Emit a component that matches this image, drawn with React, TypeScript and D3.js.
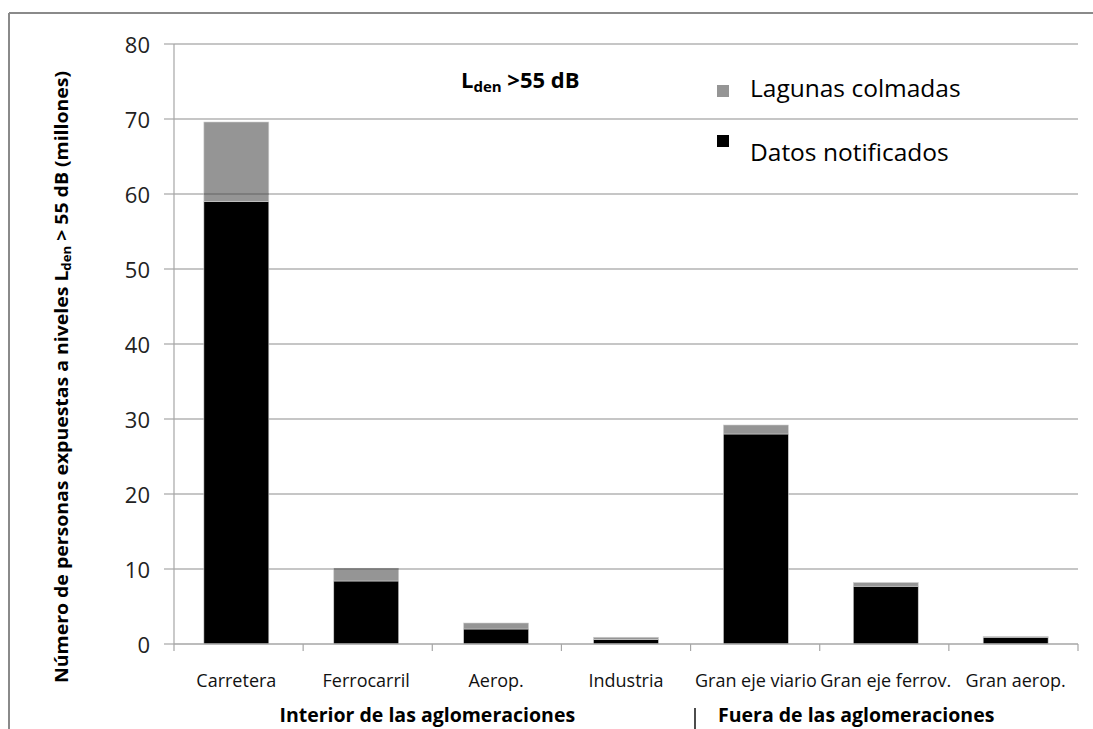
import { useMemo } from 'react';
import * as d3 from 'd3';

const categories = [
  'Carretera',
  'Ferrocarril',
  'Aerop.',
  'Industria',
  'Gran eje viario',
  'Gran eje ferrov.',
  'Gran aerop.',
];
// millones de personas
const datosNotificados = [59.0, 8.4, 2.0, 0.6, 28.0, 7.7, 0.9];
const lagunasColmadas = [10.6, 1.7, 0.8, 0.3, 1.2, 0.5, 0.1];
const yTicks = [0, 10, 20, 30, 40, 50, 60, 70, 80];
const groups = [
  { label: 'Interior de las aglomeraciones', from: 0, to: 3 },
  { label: 'Fuera de las aglomeraciones', from: 4, to: 6 },
];
const seriesKeys = ['notificados', 'lagunas'];
const seriesNames = ['Datos notificados', 'Lagunas colmadas'];
const seriesColors = ['#000000', '#959595'];

const W = 1093;
const H = 729;
const margin = { left: 174, right: 15, top: 44, bottom: 85 };
const font = '"Open Sans", "Noto Sans", sans-serif';

export default function App(): JSX.Element {
  const x = useMemo(
    () =>
      d3
        .scaleBand<string>()
        .domain(categories)
        .range([margin.left, W - margin.right])
        .paddingInner(0.5)
        .paddingOuter(0.23),
    [],
  );
  const y = useMemo(
    () => d3.scaleLinear().domain([0, 80]).range([H - margin.bottom, margin.top]),
    [],
  );

  const rows = categories.map((c, i) => ({
    cat: c,
    notificados: datosNotificados[i],
    lagunas: lagunasColmadas[i],
  }));
  const stacked = d3.stack<any>().keys(seriesKeys)(rows);

  const x0 = margin.left;
  const x1 = W - margin.right;
  const step = (x1 - x0) / categories.length;
  const bandEdges = categories.map((_, i) => x0 + i * step).concat([x1]);

  return (
    <svg
      width={W}
      height={H}
      viewBox={`0 0 ${W} ${H}`}
      style={{ position: 'absolute', left: 0, top: 0, background: '#fff' }}
      fontFamily={font}
    >
      {/* marco */}
      <line x1={9} x2={W} y1={13} y2={13} stroke="#8a8a8a" strokeWidth={2} />
      <line x1={9} x2={9} y1={13} y2={H} stroke="#8a8a8a" strokeWidth={2} />

      {/* rejilla */}
      {yTicks.map((t) => (
        <g key={t}>
          {t > 0 && (
            <line x1={x0} x2={x1} y1={y(t)} y2={y(t)} stroke="#b3b3b3" strokeWidth={1.5} />
          )}
          <line x1={x0 - 10} x2={x0} y1={y(t)} y2={y(t)} stroke="#a6a6a6" strokeWidth={1.2} />
          <text
            x={x0 - 24}
            y={y(t)}
            textAnchor="end"
            dominantBaseline="central"
            fontSize={22}
            fill="#222"
          >
            {t}
          </text>
        </g>
      ))}

      {/* barras */}
      {stacked.map((s, si) => (
        <g key={s.key} fill={seriesColors[si]}>
          {s.map((d, i) => (
            <rect
              key={categories[i]}
              x={x(categories[i])}
              width={x.bandwidth()}
              y={y(d[1])}
              height={y(d[0]) - y(d[1])}
              stroke="#d0d0d0"
              strokeWidth={0.6}
            />
          ))}
        </g>
      ))}
      {/* líneas de rejilla visibles a través de la serie gris */}
      {stacked[1].map((d, i) =>
        yTicks
          .filter((t) => t > d[0] && t < d[1])
          .map((t) => (
            <line
              key={`${i}-${t}`}
              x1={x(categories[i])}
              x2={(x(categories[i]) ?? 0) + x.bandwidth()}
              y1={y(t)}
              y2={y(t)}
              stroke="#747474"
              strokeWidth={1.5}
            />
          )),
      )}

      {/* ejes */}
      <line x1={x0} x2={x0} y1={y(80)} y2={y(0)} stroke="#a6a6a6" strokeWidth={1.2} />
      <line x1={x0} x2={x1} y1={y(0)} y2={y(0)} stroke="#a6a6a6" strokeWidth={1.5} />
      {bandEdges.map((bx, i) => (
        <line key={i} x1={bx} x2={bx} y1={y(0)} y2={y(0) + 7} stroke="#a6a6a6" strokeWidth={1.2} />
      ))}

      {categories.map((c) => (
        <text
          key={c}
          x={(x(c) ?? 0) + x.bandwidth() / 2}
          y={y(0) + 43}
          textAnchor="middle"
          fontSize={18}
          fill="#111"
        >
          {c}
        </text>
      ))}

      <text
        x={(bandEdges[groups[0].from] + bandEdges[groups[0].to + 1]) / 2 - 5}
        y={y(0) + 78}
        textAnchor="middle"
        fontSize={19.5}
        fontWeight="bold"
        fill="#000"
      >
        {groups[0].label}
      </text>
      <text x={718} y={y(0) + 78} fontSize={19.5} fontWeight="bold" fill="#000">
        {groups[1].label}
      </text>
      <line x1={695} x2={695} y1={708} y2={H} stroke="#000" strokeWidth={1.4} />

      {/* título */}
      <text x={461} y={88} fontSize={22} fontWeight="bold" fill="#000">
        L
        <tspan fontSize={15} dy={4}>
          den
        </tspan>
        <tspan dy={-4}> &gt;55 dB</tspan>
      </text>

      {/* leyenda */}
      {[1, 0].map((si, k) => (
        <g key={seriesKeys[si]}>
          <rect x={717} y={k === 0 ? 85 : 135} width={12} height={12} fill={seriesColors[si]} />
          <text x={750} y={k === 0 ? 97 : 161} fontSize={24.5} fill="#000">
            {seriesNames[si]}
          </text>
        </g>
      ))}

      {/* título eje y */}
      <text
        transform={`translate(68, 377) rotate(-90)`}
        textAnchor="middle"
        fontSize={17}
        fontWeight="bold"
        fill="#000"
        textLength={612}
        lengthAdjust="spacingAndGlyphs"
      >
        Número de personas expuestas a niveles L
        <tspan fontSize={11.5} dy={3}>
          den
        </tspan>
        <tspan dy={-3}> &gt; 55 dB (millones)</tspan>
      </text>
    </svg>
  );
}
